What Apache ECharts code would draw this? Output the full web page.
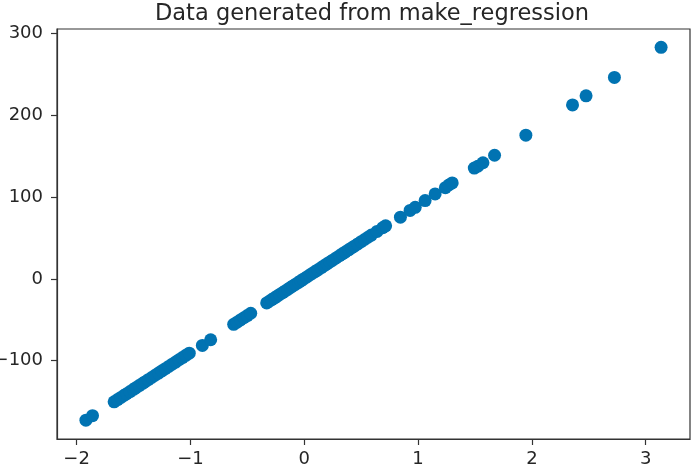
<!DOCTYPE html>
<html><head><meta charset="utf-8">
<script src="https://cdn.jsdelivr.net/npm/echarts@6/dist/echarts.min.js"></script>
<style>html,body{margin:0;padding:0;background:#fff}#c{width:700px;height:473px}</style>
</head><body><div id="c"></div>
<script>
const titleText = 'Data generated from make_regression';
const xTicks = [-2, -1, 0, 1, 2, 3];
const yTicks = [-100, 0, 100, 200, 300];
const xValues = [
  -1.918, -1.860,
  -1.670, -1.640, -1.610, -1.580, -1.560, -1.530, -1.500, -1.480, -1.450, -1.420, -1.400, -1.370,
  -1.340, -1.310, -1.280, -1.250, -1.220, -1.190, -1.160, -1.130, -1.100, -1.070, -1.040, -1.010,
  -0.895, -0.822,
  -0.620, -0.590, -0.560, -0.530, -0.500, -0.470,
  -0.330, -0.310, -0.285, -0.260, -0.240, -0.215, -0.190, -0.170, -0.145, -0.120, -0.100, -0.075,
  -0.050, -0.030, -0.010, 0.020, 0.045, 0.070, 0.095, 0.120, 0.150, 0.175, 0.200, 0.225, 0.250,
  0.280, 0.310, 0.335, 0.360, 0.390, 0.415, 0.440, 0.470, 0.500, 0.530, 0.560, 0.590, 0.640, 0.690, 0.715,
  0.845, 0.930, 0.975, 1.062, 1.150, 1.240, 1.270, 1.300,
  1.494, 1.525, 1.570, 1.672, 1.947, 2.357, 2.476, 2.725, 3.135
];
const yValues = [
  -173.0, -167.5,
  -150.5, -147.8, -145.1, -142.4, -140.6, -137.9, -135.2, -133.4, -130.6, -128.0, -126.2, -123.4,
  -120.7, -118.0, -115.3, -112.6, -109.9, -107.2, -104.4, -101.8, -99.0, -96.3, -93.6, -90.9,
  -81.5, -74.5,
  -55.7, -53.0, -50.3, -47.6, -44.9, -42.1,
  -29.5, -27.7, -25.4, -23.2, -21.4, -19.1, -16.9, -15.1, -12.8, -10.5, -8.7, -6.5,
  -4.2, -2.4, -0.6, 2.1, 4.4, 6.6, 8.9, 11.1, 13.8, 16.1, 18.4, 20.6, 22.9,
  25.6, 28.3, 30.6, 32.8, 35.5, 37.8, 40.0, 42.7, 45.5, 48.2, 50.9, 53.6, 58.1, 62.6, 64.9,
  75.5, 83.8, 87.6, 95.8, 104.0, 111.6, 114.9, 117.4,
  135.6, 137.8, 142.1, 151.3, 175.8, 212.9, 224.0, 246.5, 283.4
];
const points = xValues.map((x, i) => [x, yValues[i]]);
const txt = '#262626';
const chart = echarts.init(document.getElementById('c'), null, {renderer: 'canvas'});
chart.setOption({
  animation: false,
  backgroundColor: '#fff',
  title: {text: titleText, left: 367, textAlign: 'center', top: -2,
    textStyle: {fontFamily: 'DejaVu Sans', fontSize: 22.5, fontWeight: 'normal', color: txt}},
  grid: {left: 57, right: 10, top: 29, bottom: 34, containLabel: false, outerBoundsMode: 'none',
    show: true, borderColor: '#333', borderWidth: 1.2, backgroundColor: 'transparent'},
  xAxis: {type: 'value', min: -2.172, max: 3.389,
    axisLine: {show: true, onZero: false, lineStyle: {color: '#333', width: 1.2}},
    splitLine: {show: false},
    axisTick: {show: true, length: 6, lineStyle: {color: '#333', width: 1.2}, customValues: xTicks},
    axisLabel: {customValues: xTicks, margin: 11, color: txt, fontFamily: 'DejaVu Sans', fontSize: 18,
      formatter: v => (v < 0 ? '\u2212' + Math.abs(v) : String(v))}},
  yAxis: {type: 'value', min: -196, max: 305.8,
    axisLine: {show: true, onZero: false, lineStyle: {color: '#333', width: 1.2}},
    splitLine: {show: false},
    axisTick: {show: true, length: 6, lineStyle: {color: '#333', width: 1.2}, customValues: yTicks},
    axisLabel: {customValues: yTicks, margin: 14, color: txt, fontFamily: 'DejaVu Sans', fontSize: 18,
      formatter: v => (v < 0 ? '\u2212' + Math.abs(v) : String(v))}},
  series: [{type: 'scatter', data: points, symbol: 'circle', symbolSize: 13,
    itemStyle: {color: '#0173B2', opacity: 1}}]
});
</script></body></html>
